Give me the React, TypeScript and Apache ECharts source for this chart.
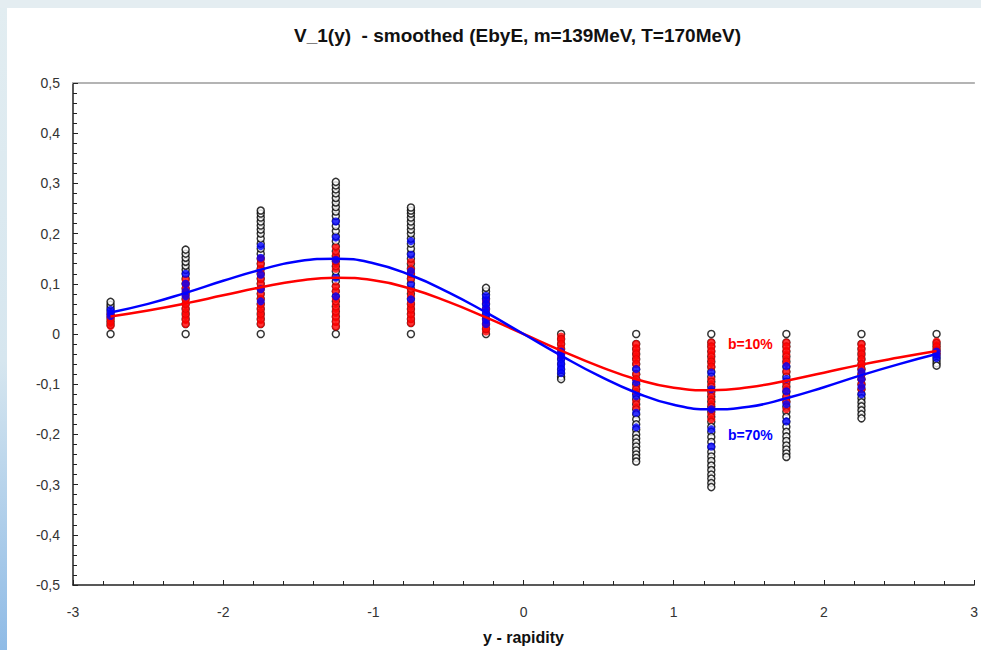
import React, { useEffect, useRef } from "react";
import * as echarts from "echarts";

// Rapidity bins
const rapidity = [-2.75, -2.25, -1.75, -1.25, -0.75, -0.25, 0.25, 0.75, 1.25, 1.75, 2.25, 2.75];

// Event-by-event values per bin (all events, open circles)
const allEvents: number[][] = [
  [0, 0.018, 0.025, 0.032, 0.039, 0.046, 0.052, 0.058, 0.064],
  [0, 0.02, 0.03, 0.04, 0.05, 0.06, 0.07, 0.08, 0.09, 0.1, 0.11, 0.12, 0.128, 0.136, 0.144, 0.152, 0.16, 0.168],
  [0, 0.02, 0.03, 0.04, 0.05, 0.06, 0.07, 0.08, 0.09, 0.1, 0.11, 0.12, 0.13, 0.14, 0.15, 0.16, 0.17, 0.18, 0.19, 0.2, 0.208, 0.216, 0.224, 0.232, 0.24, 0.246],
  [0, 0.015, 0.025, 0.035, 0.045, 0.055, 0.065, 0.075, 0.085, 0.095, 0.105, 0.115, 0.125, 0.135, 0.145, 0.155, 0.165, 0.175, 0.185, 0.195, 0.205, 0.215, 0.225, 0.235, 0.244, 0.253, 0.262, 0.271, 0.28, 0.288, 0.296, 0.303],
  [0, 0.022, 0.03, 0.04, 0.05, 0.06, 0.07, 0.08, 0.09, 0.1, 0.11, 0.12, 0.13, 0.14, 0.15, 0.16, 0.17, 0.18, 0.19, 0.2, 0.208, 0.216, 0.224, 0.232, 0.24, 0.246, 0.252],
  [0, 0.01, 0.02, 0.03, 0.04, 0.05, 0.06, 0.07, 0.078, 0.085, 0.092],
  [0, -0.01, -0.02, -0.03, -0.04, -0.05, -0.06, -0.07, -0.078, -0.085, -0.09],
  [0, -0.02, -0.03, -0.04, -0.05, -0.06, -0.07, -0.08, -0.09, -0.1, -0.11, -0.12, -0.13, -0.14, -0.15, -0.16, -0.17, -0.18, -0.19, -0.2, -0.208, -0.216, -0.224, -0.232, -0.24, -0.247, -0.254],
  [0, -0.017, -0.025, -0.035, -0.045, -0.055, -0.065, -0.075, -0.085, -0.095, -0.105, -0.115, -0.125, -0.135, -0.145, -0.155, -0.165, -0.175, -0.185, -0.195, -0.205, -0.215, -0.225, -0.235, -0.244, -0.253, -0.262, -0.271, -0.28, -0.288, -0.297, -0.305],
  [0, -0.017, -0.025, -0.035, -0.045, -0.055, -0.065, -0.075, -0.085, -0.095, -0.105, -0.115, -0.125, -0.135, -0.145, -0.155, -0.165, -0.175, -0.185, -0.195, -0.204, -0.213, -0.222, -0.23, -0.238, -0.245],
  [0, -0.02, -0.03, -0.04, -0.05, -0.06, -0.07, -0.08, -0.09, -0.1, -0.11, -0.12, -0.128, -0.136, -0.144, -0.152, -0.16, -0.168],
  [0, -0.018, -0.025, -0.032, -0.039, -0.046, -0.052, -0.058, -0.063],
];

// Events at b=10%
const central: number[][] = [
  [0.016, 0.022, 0.028, 0.034, 0.04],
  [0.02, 0.028, 0.036, 0.044, 0.052, 0.06, 0.068, 0.076, 0.084, 0.092, 0.1, 0.108],
  [0.02, 0.028, 0.036, 0.044, 0.052, 0.06, 0.07, 0.08, 0.09, 0.1, 0.11, 0.12, 0.13, 0.14, 0.15],
  [0.015, 0.024, 0.033, 0.042, 0.05, 0.06, 0.07, 0.085, 0.095, 0.13, 0.14, 0.15, 0.16, 0.172],
  [0.022, 0.03, 0.038, 0.046, 0.054, 0.062, 0.075, 0.085, 0.11, 0.12, 0.13, 0.144],
  [0.005, 0.012, 0.02, 0.028, 0.05, 0.065],
  [-0.005, -0.012, -0.02, -0.028, -0.036, -0.044],
  [-0.02, -0.028, -0.036, -0.044, -0.052, -0.06, -0.08, -0.09, -0.105, -0.115, -0.135, -0.146],
  [-0.017, -0.025, -0.033, -0.041, -0.05, -0.058, -0.066, -0.09, -0.1, -0.12, -0.13, -0.14, -0.15, -0.16, -0.17],
  [-0.017, -0.025, -0.033, -0.041, -0.05, -0.058, -0.075, -0.1, -0.11, -0.125, -0.135, -0.15],
  [-0.02, -0.028, -0.036, -0.044, -0.052, -0.06, -0.07, -0.08, -0.09, -0.1, -0.11],
  [-0.015, -0.022, -0.028, -0.034, -0.04],
];

// Events at b=70%
const peripheral: number[][] = [
  [0.036, 0.042, 0.048],
  [0.075, 0.085, 0.1, 0.12],
  [0.065, 0.089, 0.118, 0.152, 0.175],
  [0.075, 0.112, 0.148, 0.192, 0.224],
  [0.069, 0.098, 0.125, 0.158, 0.185],
  [0.02, 0.028, 0.036, 0.044, 0.052, 0.06, 0.068, 0.076],
  [-0.035, -0.043, -0.05, -0.057, -0.064, -0.071, -0.078],
  [-0.07, -0.096, -0.124, -0.157, -0.186],
  [-0.077, -0.11, -0.15, -0.19, -0.224],
  [-0.064, -0.089, -0.114, -0.14, -0.174],
  [-0.075, -0.09, -0.105, -0.12],
  [-0.035, -0.042, -0.048],
];

// Smoothed curves
const curveY = [-2.75, -2.5, -2.25, -2.0, -1.75, -1.5, -1.25, -1.0, -0.75, -0.5, -0.25, 0, 0.25, 0.5, 0.75, 1.0, 1.25, 1.5, 1.75, 2.0, 2.25, 2.5, 2.75];
const curveB10 = [0.035, 0.047, 0.061, 0.077, 0.093, 0.106, 0.112, 0.107, 0.09, 0.064, 0.033, 0, -0.033, -0.064, -0.09, -0.107, -0.112, -0.106, -0.093, -0.077, -0.061, -0.047, -0.034];
const curveB70 = [0.043, 0.06, 0.082, 0.106, 0.128, 0.145, 0.15, 0.141, 0.117, 0.083, 0.043, 0, -0.043, -0.083, -0.117, -0.141, -0.15, -0.145, -0.128, -0.106, -0.082, -0.06, -0.04];

const title = "V_1(y)  - smoothed (EbyE, m=139MeV, T=170MeV)";
const xName = "y - rapidity";
const labelB10 = "b=10%";
const labelB70 = "b=70%";

const points = (cols: number[][]) =>
  cols.flatMap((vals, i) => vals.map((v) => [rapidity[i], v]));
const curve = (vals: number[]) => curveY.map((y, i) => [y, vals[i]]);

const FONT = "Liberation Sans, Arial, sans-serif";

export default function App() {
  const ref = useRef<HTMLDivElement>(null);
  useEffect(() => {
    if (!ref.current) return;
    const chart = echarts.init(ref.current, undefined, { renderer: "svg" });
    chart.setOption({
      animation: false,
      backgroundColor: "#e4edf1",
      textStyle: { fontFamily: FONT },
      graphic: [
        {
          type: "rect",
          z: -10,
          shape: { x: 0, y: 8, width: 7, height: 642 },
          style: {
            fill: new echarts.graphic.LinearGradient(0, 0, 0, 1, [
              { offset: 0, color: "#e2edf1" },
              { offset: 0.55, color: "#d6e6ef" },
              { offset: 1, color: "#8fbbe6" },
            ]),
          },
        },
        {
          type: "rect",
          z: -9,
          shape: { x: 7, y: 8, width: 974, height: 642 },
          style: { fill: "#ffffff" },
        },
        {
          type: "text",
          left: 728,
          top: 337,
          style: { text: labelB10, fill: "#ff0000", font: `bold 14px ${FONT}` },
        },
        {
          type: "text",
          left: 728,
          top: 428,
          style: { text: labelB70, fill: "#0000ff", font: `bold 14px ${FONT}` },
        },
      ],
      title: {
        text: title,
        left: 289,
        top: 21,
        textStyle: { fontSize: 19, fontWeight: "bold", color: "#111", fontFamily: FONT },
      },
      grid: { left: 73, right: 2, top: 83, bottom: 64, containLabel: false },
      xAxis: [
        {
          type: "value",
          min: -3,
          max: 3,
          interval: 1,
          position: "bottom",
          name: xName,
          nameLocation: "middle",
          nameGap: 44,
          nameTextStyle: { fontSize: 16, fontWeight: "bold", color: "#111", fontFamily: FONT },
          axisLine: { onZero: false, lineStyle: { color: "#222", width: 1.5 } },
          axisTick: { inside: true, length: 5, lineStyle: { color: "#222" } },
          minorTick: { show: true, splitNumber: 5, length: 4, lineStyle: { color: "#222" } },
          axisLabel: { margin: 20, fontSize: 14, color: "#333", fontFamily: FONT },
          splitLine: { show: false },
        },
        {
          type: "value",
          min: -3,
          max: 3,
          position: "top",
          axisLine: { onZero: false, lineStyle: { color: "#b4b4b4", width: 2 } },
          axisTick: { show: false },
          axisLabel: { show: false },
          splitLine: { show: false },
        },
      ],
      yAxis: {
        type: "value",
        min: -0.5,
        max: 0.5,
        interval: 0.1,
        axisLine: { show: true, onZero: false, lineStyle: { color: "#222", width: 1.5 } },
        axisTick: { show: true, inside: true, length: 5, lineStyle: { color: "#222" } },
        minorTick: { show: true, splitNumber: 5, length: 4, lineStyle: { color: "#222" } },
        axisLabel: {
          margin: 13,
          fontSize: 14,
          color: "#333",
          fontFamily: FONT,
          formatter: (v: number) => {
            const r = Math.round(v * 10) / 10;
            return r === 0 ? "0" : r.toFixed(1).replace(".", ",");
          },
        },
        splitLine: { show: false },
      },
      series: [
        {
          type: "scatter",
          data: points(allEvents),
          symbol: "circle",
          symbolSize: 7,
          itemStyle: { color: "#ffffff", borderColor: "#000000", borderWidth: 1.5 },
          z: 2,
        },
        {
          type: "scatter",
          data: points(central),
          symbol: "circle",
          symbolSize: 8,
          itemStyle: { color: "#ff0000" },
          z: 3,
        },
        {
          type: "scatter",
          data: points(peripheral),
          symbol: "circle",
          symbolSize: 8,
          itemStyle: { color: "#0000ff" },
          z: 4,
        },
        {
          type: "line",
          data: curve(curveB10),
          smooth: true,
          showSymbol: false,
          lineStyle: { color: "#ff0000", width: 2.5 },
          z: 5,
        },
        {
          type: "line",
          data: curve(curveB70),
          smooth: true,
          showSymbol: false,
          lineStyle: { color: "#0000ff", width: 2.5 },
          z: 6,
        },
      ],
    });
    return () => chart.dispose();
  }, []);
  return (
    <div
      ref={ref}
      style={{ position: "fixed", left: 0, top: 0, width: 981, height: 650 }}
    />
  );
}
